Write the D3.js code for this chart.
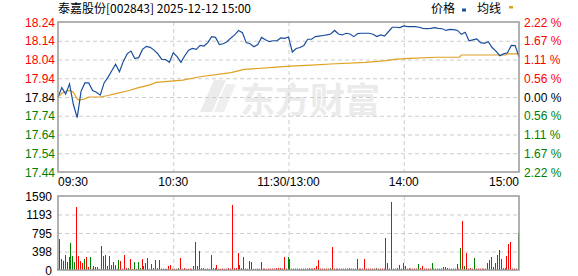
<!DOCTYPE html>
<html>
<head>
<meta charset="utf-8">
<script src="https://cdn.jsdelivr.net/npm/d3@7"></script>
<style>
  body { margin: 0; background: #fff; }
  svg { display: block; font-family: "Liberation Sans", Arial, sans-serif; }
</style>
</head>
<body>
<svg id="chart" width="578" height="276"></svg>
<script>
// 泰嘉股份 分时数据 (每2分钟取一个点, 0 = 09:30, 120 = 11:30/13:00, 240 = 15:00)
var preClose = 17.84;
var prices = [
  17.84, 17.89, 17.855, 17.91, 17.80, 17.73, 17.87, 17.915, 17.915, 17.875,
  17.865, 17.85, 17.915, 17.945, 17.98, 18.015, 17.975, 18.03, 18.07, 18.085,
  18.045, 18.05, 18.094, 18.11, 18.105, 18.09, 18.07, 18.041, 18.04, 18.025,
  18.076, 18.055, 18.025, 18.06, 18.09, 18.099, 18.094, 18.115, 18.112, 18.13,
  18.162, 18.158, 18.12, 18.124, 18.135, 18.155, 18.171, 18.195, 18.183, 18.13,
  18.124, 18.108, 18.12, 18.158, 18.145, 18.135, 18.14, 18.14, 18.155, 18.153,
  18.16, 18.08, 18.099, 18.104, 18.115, 18.148, 18.148, 18.162, 18.165, 18.168,
  18.171, 18.176, 18.195, 18.176, 18.171, 18.18, 18.176, 18.162, 18.178, 18.18,
  18.18, 18.18, 18.175, 18.162, 18.171, 18.165, 18.188, 18.212, 18.212, 18.21,
  18.219, 18.215, 18.215, 18.215, 18.212, 18.206, 18.205, 18.206, 18.21, 18.206,
  18.204, 18.195, 18.201, 18.199, 18.195, 18.174, 18.185, 18.14, 18.145, 18.15,
  18.13, 18.126, 18.135, 18.104, 18.085, 18.06, 18.07, 18.076, 18.115, 18.114,
  18.055
];
// 均线 (分钟, 价格)
var avgMinutes = [0, 2, 4, 6, 8, 10, 11, 14, 16, 22, 26, 30, 36, 42, 48, 51, 65, 74, 90, 97, 112, 121, 132, 142, 160, 171, 175, 183, 197, 209, 210, 233, 234, 240];
var avgValues  = [17.84, 17.86, 17.87, 17.875, 17.865, 17.83, 17.824, 17.83, 17.84, 17.84, 17.848, 17.858, 17.872, 17.89, 17.905, 17.918, 17.93, 17.948, 17.97, 17.987, 17.998, 18.005, 18.01, 18.016, 18.025, 18.034, 18.041, 18.046, 18.052, 18.052, 18.064, 18.064, 18.07, 18.07];
// 成交量 (每分钟)
var volumes = [
  30, 666, 236, 200, 322, 172, 279, 580, 300, 172,
  1353, 300, 193, 150, 236, 279, 64, 279, 25, 86,
  64, 64, 25, 516, 300, 322, 86, 300, 107, 172,
  107, 25, 215, 193, 25, 322, 40, 40, 236, 25,
  172, 25, 172, 40, 236, 86, 150, 258, 25, 129,
  40, 215, 40, 215, 30, 30, 25, 25, 86, 107,
  25, 25, 25, 40, 258, 25, 40, 25, 25, 30,
  25, 86, 602, 86, 408, 40, 40, 25, 30, 25,
  322, 40, 40, 107, 25, 25, 30, 25, 25, 40,
  30, 1397, 40, 40, 365, 107, 40, 279, 30, 25,
  193, 172, 25, 25, 30, 25, 172, 30, 30, 25,
  30, 30, 30, 30, 40, 40, 40, 30, 279, 30,
  279, 236, 30, 30, 30, 30, 30, 30, 30, 30,
  30, 40, 30, 30, 40, 86, 215, 30, 30, 30,
  30, 30, 40, 494, 30, 30, 30, 30, 30, 30,
  30, 30, 40, 30, 30, 30, 236, 30, 30, 30,
  236, 30, 30, 30, 30, 30, 40, 30, 30, 30,
  30, 688, 150, 30, 1461, 30, 30, 40, 107, 30,
  150, 86, 30, 40, 30, 30, 30, 30, 129, 40,
  86, 30, 30, 30, 30, 150, 30, 30, 30, 30,
  30, 64, 64, 40, 30, 30, 30, 30, 129, 30,
  473, 1053, 86, 365, 30, 40, 30, 258, 30, 30,
  30, 30, 30, 30, 150, 215, 279, 64, 150, 322,
  430, 236, 40, 40, 300, 559, 602, 30, 30, 30,
  795
];
var greenBars = [3, 4, 7, 8, 9, 14, 17, 19, 20, 21, 28, 32, 37, 40, 42, 43, 51, 53, 63, 71, 73, 76, 97, 120, 121, 142, 166, 172, 177, 188, 195, 201, 202, 210, 212, 217, 225, 227, 229, 230, 232, 233, 240];

var priceTicks = [18.24, 18.14, 18.04, 17.94, 17.84, 17.74, 17.64, 17.54, 17.44];
var pctLabels = ["2.22", "1.67", "1.11", "0.56", "0.00", "0.56", "1.11", "1.67", "2.22"];
var volTicks = [1590, 1193, 795, 398, 0];
var timeTicks = [0, 60, 120, 180, 240];
var timeLabels = ["09:30", "10:30", "11:30/13:00", "14:00", "15:00"];

var svg = d3.select("#chart");
var left = 58, right = 519;
var x = d3.scaleLinear().domain([0, 240]).range([left, right]);
var y = d3.scaleLinear().domain([17.44, 18.24]).range([172, 22]);
var yv = d3.scaleLinear().domain([0, 1590]).range([270, 196]);

var red = "#ff0000", green = "#008000", black = "#000";
var colorOf = function(p) { return p > preClose ? red : (p < preClose ? green : black); };

// 标题
svg.append("text").attr("x", 58).attr("y", 13).attr("font-size", 12)
  .attr("font-family", "'Noto Sans CJK SC', sans-serif")
  .text("泰嘉股份[002843] 2025-12-12 15:00");

// 图例
var legend = svg.append("g").attr("font-size", 12).attr("font-family", "'Noto Sans CJK SC', sans-serif");
legend.append("text").attr("x", 431).attr("y", 13).text("价格");
legend.append("rect").attr("x", 462).attr("y", 8.5).attr("width", 4).attr("height", 3).attr("fill", "#1a4f9c");
legend.append("text").attr("x", 477).attr("y", 13).text("均线");
legend.append("rect").attr("x", 509).attr("y", 6).attr("width", 4).attr("height", 2.5).attr("fill", "#e0a020");

// 水印 (标志 + 文字)
var wm = svg.append("g").attr("fill", "#ebebeb");
wm.append("path").attr("d", "M214,80 L226,80 L212,112 L200,112 Z");
wm.append("path").attr("d", "M226,84 L236,84 L224,112 L214,112 Z").attr("fill", "#efefef");
wm.append("text").attr("x", 240).attr("y", 113).attr("font-size", 35).attr("font-weight", "bold")
  .attr("font-family", "'Noto Sans CJK SC', sans-serif")
  .text("东方财富");

// 网格
var grid = svg.append("g").attr("stroke", "#cccccc").attr("stroke-dasharray", "4,3").attr("fill", "none");
grid.selectAll(".hp").data(priceTicks.slice(1, -1)).enter().append("line")
  .attr("x1", left).attr("x2", right).attr("y1", d => y(d) + 0.5).attr("y2", d => y(d) + 0.5);
grid.selectAll(".vp").data(timeTicks.slice(1, -1)).enter().append("line")
  .attr("x1", d => x(d) + 0.5).attr("x2", d => x(d) + 0.5).attr("y1", 22).attr("y2", 172);
grid.selectAll(".hv").data(volTicks.slice(1, -1)).enter().append("line")
  .attr("x1", left).attr("x2", right).attr("y1", d => yv(d) + 0.5).attr("y2", d => yv(d) + 0.5);
grid.selectAll(".vv").data(timeTicks.slice(1, -1)).enter().append("line")
  .attr("x1", d => x(d) + 0.5).attr("x2", d => x(d) + 0.5).attr("y1", 196).attr("y2", 270);

// 均线
var avgData = avgMinutes.map((m, i) => [m, avgValues[i]]);
svg.append("path").datum(avgData)
  .attr("fill", "none").attr("stroke", "#e0a020").attr("stroke-width", 1.2)
  .attr("d", d3.line().x(d => x(d[0])).y(d => y(d[1])));

// 价格线
svg.append("path").datum(prices)
  .attr("fill", "none").attr("stroke", "#1a4f9c").attr("stroke-width", 1.2)
  .attr("d", d3.line().x((d, i) => x(i * 2)).y(d => y(d)));

// 成交量
svg.append("g").selectAll("rect").data(volumes).enter().append("rect")
  .attr("x", (d, i) => Math.round(x(i)) - 1)
  .attr("width", 1)
  .attr("y", d => yv(d))
  .attr("height", d => 270 - yv(d))
  .attr("fill", (d, i) => greenBars.indexOf(i) >= 0 ? green : red);

// 边框
svg.append("rect").attr("x", left).attr("y", 22).attr("width", right - left).attr("height", 150)
  .attr("fill", "none").attr("stroke", "#999").attr("stroke-width", 1.5);
svg.append("rect").attr("x", left).attr("y", 196).attr("width", right - left).attr("height", 74)
  .attr("fill", "none").attr("stroke", "#999").attr("stroke-width", 1.5);

// 左侧价格刻度
svg.append("g").selectAll("text").data(priceTicks).enter().append("text")
  .attr("x", 55).attr("y", d => y(d) + 4.5).attr("text-anchor", "end").attr("font-size", 12)
  .attr("fill", d => colorOf(d))
  .text(d => d.toFixed(2));

// 右侧涨跌幅
svg.append("g").selectAll("text").data(priceTicks).enter().append("text")
  .attr("x", 524).attr("y", d => y(d) + 4.5).attr("font-size", 12)
  .attr("fill", d => colorOf(d))
  .text((d, i) => pctLabels[i] + " %");

// 时间轴
svg.append("g").selectAll("text").data(timeTicks).enter().append("text")
  .attr("x", d => x(d)).attr("y", 186).attr("font-size", 12)
  .attr("text-anchor", (d, i) => i === 0 ? "start" : (i === timeTicks.length - 1 ? "end" : "middle"))
  .text((d, i) => timeLabels[i]);

// 成交量刻度
svg.append("g").selectAll("text").data(volTicks).enter().append("text")
  .attr("x", 52).attr("y", d => yv(d) + 4.5).attr("text-anchor", "end").attr("font-size", 12)
  .text(d => d);
</script>
</body>
</html>
